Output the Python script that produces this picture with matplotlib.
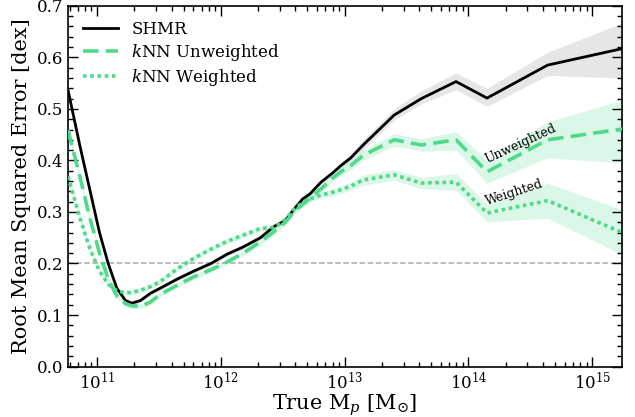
import numpy as np
import matplotlib
matplotlib.use("Agg")
import matplotlib.pyplot as plt
from matplotlib.ticker import MultipleLocator, LogLocator, NullFormatter

plt.rcParams['font.family'] = 'DejaVu Serif'
plt.rcParams['mathtext.fontset'] = 'dejavuserif'

# log10 of true halo mass
log_mass = [10.765, 10.86, 10.94, 11.02, 11.09, 11.16, 11.23, 11.28, 11.35, 11.43,
            11.51, 11.65, 11.78, 11.92, 12.05, 12.18, 12.32, 12.43, 12.52, 12.59,
            12.66, 12.72, 12.81, 12.90, 12.97, 13.05, 13.15, 13.4, 13.62, 13.9,
            14.15, 14.64, 15.243]

shmr = [0.537, 0.43, 0.345, 0.26, 0.20, 0.152, 0.128, 0.123, 0.128, 0.142,
        0.152, 0.17, 0.185, 0.20, 0.218, 0.232, 0.25, 0.272, 0.283, 0.305,
        0.325, 0.335, 0.358, 0.375, 0.39, 0.405, 0.43, 0.488, 0.52, 0.553,
        0.521, 0.585, 0.617]
shmr_lo = [0.53, 0.424, 0.34, 0.255, 0.196, 0.148, 0.124, 0.119, 0.124, 0.138,
           0.148, 0.166, 0.181, 0.196, 0.214, 0.228, 0.246, 0.268, 0.279, 0.30,
           0.32, 0.33, 0.353, 0.37, 0.384, 0.398, 0.42, 0.478, 0.51, 0.537,
           0.505, 0.565, 0.56]
shmr_hi = [0.544, 0.436, 0.35, 0.265, 0.204, 0.156, 0.132, 0.127, 0.132, 0.146,
           0.156, 0.174, 0.189, 0.204, 0.222, 0.236, 0.254, 0.276, 0.287, 0.31,
           0.33, 0.34, 0.363, 0.38, 0.396, 0.412, 0.44, 0.50, 0.535, 0.57,
           0.54, 0.61, 0.667]

unw = [0.459, 0.37, 0.29, 0.22, 0.17, 0.137, 0.122, 0.118, 0.117, 0.125,
       0.14, 0.158, 0.174, 0.188, 0.203, 0.22, 0.242, 0.262, 0.28, 0.30,
       0.315, 0.327, 0.345, 0.365, 0.378, 0.39, 0.41, 0.44, 0.43, 0.44,
       0.378, 0.44, 0.461]
unw_lo = [0.45, 0.362, 0.283, 0.214, 0.165, 0.132, 0.117, 0.113, 0.112, 0.12,
          0.135, 0.153, 0.169, 0.183, 0.198, 0.215, 0.236, 0.256, 0.274, 0.294,
          0.309, 0.321, 0.338, 0.358, 0.37, 0.381, 0.40, 0.428, 0.418, 0.42,
          0.356, 0.405, 0.395]
unw_hi = [0.468, 0.378, 0.297, 0.226, 0.175, 0.142, 0.127, 0.123, 0.122, 0.13,
          0.145, 0.163, 0.179, 0.193, 0.208, 0.225, 0.248, 0.268, 0.286, 0.306,
          0.321, 0.333, 0.352, 0.372, 0.386, 0.399, 0.42, 0.452, 0.442, 0.456,
          0.40, 0.475, 0.517]

wtd = [0.369, 0.29, 0.23, 0.185, 0.16, 0.147, 0.143, 0.144, 0.148, 0.155,
       0.165, 0.19, 0.21, 0.228, 0.243, 0.255, 0.268, 0.27, 0.285, 0.305,
       0.318, 0.325, 0.333, 0.338, 0.343, 0.35, 0.362, 0.372, 0.356, 0.358,
       0.298, 0.322, 0.26]
wtd_lo = [0.36, 0.283, 0.224, 0.18, 0.155, 0.142, 0.138, 0.139, 0.143, 0.15,
          0.16, 0.185, 0.205, 0.223, 0.238, 0.25, 0.263, 0.265, 0.279, 0.299,
          0.312, 0.319, 0.327, 0.331, 0.336, 0.342, 0.352, 0.362, 0.345, 0.342,
          0.281, 0.288, 0.217]
wtd_hi = [0.378, 0.297, 0.236, 0.19, 0.165, 0.152, 0.148, 0.149, 0.153, 0.16,
          0.17, 0.195, 0.215, 0.233, 0.248, 0.26, 0.273, 0.275, 0.291, 0.311,
          0.324, 0.331, 0.339, 0.345, 0.35, 0.358, 0.372, 0.382, 0.367, 0.375,
          0.315, 0.356, 0.304]

green = '#4fd98b'
mass = 10 ** np.array(log_mass)

fig = plt.figure(figsize=(6.35, 4.17), dpi=100)
ax = fig.add_axes([0.107, 0.121, 0.873, 0.865])

ax.fill_between(mass, shmr_lo, shmr_hi, color='#e6e6e6', lw=0, zorder=1)
ax.fill_between(mass, unw_lo, unw_hi, color=green, alpha=0.2, lw=0, zorder=1)
ax.fill_between(mass, wtd_lo, wtd_hi, color=green, alpha=0.2, lw=0, zorder=1)

ax.axhline(0.2, color='#aaaaaa', ls='--', lw=1.1, zorder=0)

ax.plot(mass, shmr, color='black', lw=2.0, label='SHMR', zorder=3)
ax.plot(mass, unw, color=green, lw=2.6, ls=(0, (4.3, 2.0)),
        label=r'$k$NN Unweighted', zorder=3)
ax.plot(mass, wtd, color=green, lw=2.6, ls=(0, (1, 1)),
        label=r'$k$NN Weighted', zorder=3)

ax.text(10 ** 14.42, 0.433, 'Unweighted', fontsize=9, rotation=25,
        ha='center', va='center')
ax.text(10 ** 14.37, 0.338, 'Weighted', fontsize=9, rotation=18,
        ha='center', va='center')

ax.set_xscale('log')
ax.set_xlim(10 ** 10.765, 10 ** 15.243)
ax.set_ylim(0, 0.7)
ax.yaxis.set_major_locator(MultipleLocator(0.1))
ax.yaxis.set_minor_locator(MultipleLocator(0.02))
ax.xaxis.set_major_locator(LogLocator(base=10, numticks=10))
ax.xaxis.set_minor_locator(LogLocator(base=10, subs=np.arange(2, 10), numticks=20))
ax.xaxis.set_minor_formatter(NullFormatter())

ax.tick_params(which='both', direction='in', top=True, right=True, labelsize=12)
ax.tick_params(which='major', length=7, width=1)
ax.tick_params(which='minor', length=3.5, width=1)
for s in ax.spines.values():
    s.set_linewidth(1.2)

ax.set_xlabel(r'True M$_p$ [M$_{\odot}$]', fontsize=15, labelpad=0)
ax.set_ylabel('Root Mean Squared Error [dex]', fontsize=15, labelpad=4)

ax.legend(loc='upper left', frameon=False, fontsize=12, handlelength=2.1,
          borderaxespad=0.5, labelspacing=0.25)

fig.savefig('out.png', dpi=100)
